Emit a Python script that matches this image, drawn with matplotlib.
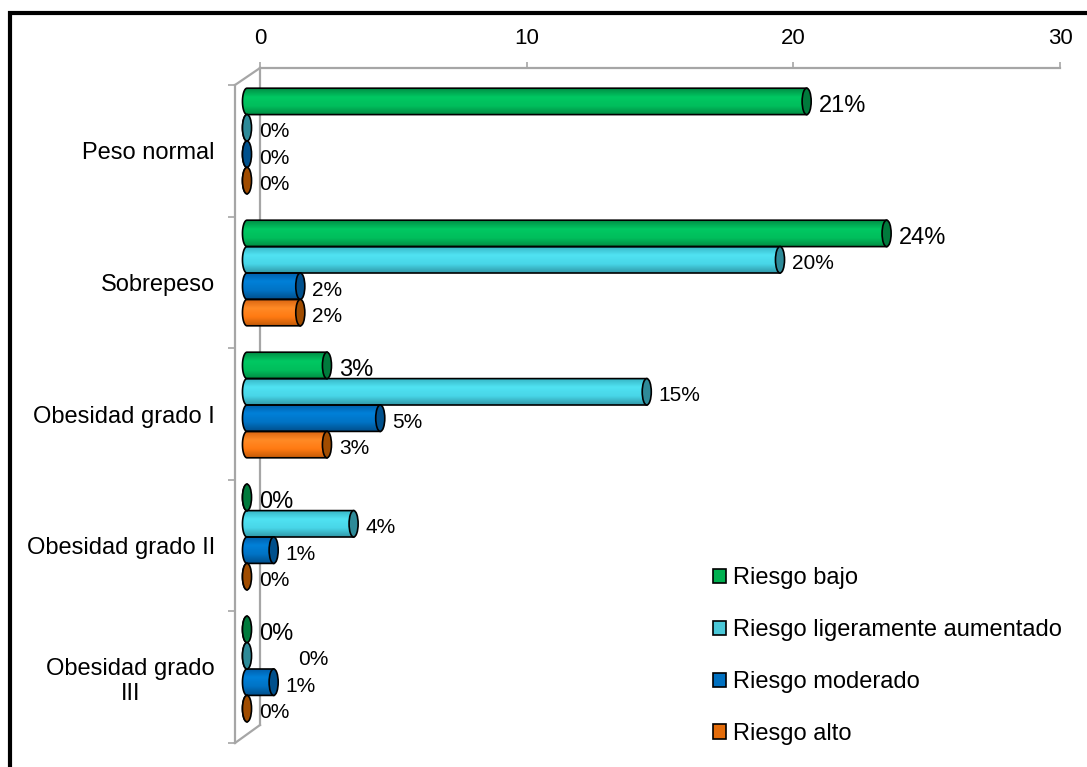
import numpy as np
import matplotlib
matplotlib.use("Agg")
import matplotlib.pyplot as plt
from matplotlib.colors import LinearSegmentedColormap
from matplotlib.patches import Ellipse, PathPatch, Patch, Rectangle
from matplotlib.path import Path
from matplotlib.lines import Line2D

plt.rcParams['font.family'] = ['Liberation Sans', 'DejaVu Sans']

# ── Datos (% de pacientes) ───────────────────────────────────
categorias = ["Peso normal", "Sobrepeso", "Obesidad grado I",
              "Obesidad grado II", "Obesidad grado\nIII"]
series = ["Riesgo bajo", "Riesgo ligeramente aumentado",
          "Riesgo moderado", "Riesgo alto"]
riesgo_bajo = [21, 24, 3, 0, 0]
riesgo_ligero = [0, 20, 15, 4, 0]
riesgo_moderado = [0, 2, 5, 1, 1]
riesgo_alto = [0, 2, 3, 0, 0]
ticks_x = [0, 10, 20, 30]

valores = [riesgo_bajo, riesgo_ligero, riesgo_moderado, riesgo_alto]

# ── Estilos: degradado del cilindro, tapa y leyenda ──────────
degradados = [
    ["#008E45", "#00C862", "#00BE5C", "#008A42"],
    ["#36B4C4", "#50E2F2", "#48D6E8", "#3098A8"],
    ["#005CA8", "#0080D8", "#0074C6", "#00508E"],
    ["#D86410", "#FF8A26", "#FF7A12", "#C25A08"],
]
tapas = ["#007A3C", "#2E8A98", "#00508C", "#A04C00"]
colores_leyenda = ["#00B050", "#4BC8D8", "#0070C0", "#E46C0A"]
tam_etiqueta = [17, 15, 15, 15]
desplaz_extra = {(4, 1): 28}   # etiqueta desplazada a la derecha

GRIS = "#A6A6A6"
W, H = 1087, 767
PX_UNIDAD = 26.65   # píxeles por unidad del eje x


def caja(x0, y0, x1, y1):
    """Rectángulo en píxeles (origen arriba-izquierda) -> fracción de figura."""
    return [x0 / W, 1 - y1 / H, (x1 - x0) / W, (y1 - y0) / H]


fig = plt.figure(figsize=(W / 100, H / 100), dpi=100)
fig.patch.set_facecolor("white")

# ── Pared del fondo: eje superior con la escala ──────────────
ax_fondo = fig.add_axes(caja(260, 68, 1060, 725))
ax_fondo.set_xlim(0, 30)
ax_fondo.set_ylim(0, 1)
ax_fondo.patch.set_visible(False)
for lado in ["right", "bottom"]:
    ax_fondo.spines[lado].set_visible(False)
for lado in ["top", "left"]:
    ax_fondo.spines[lado].set_color(GRIS)
    ax_fondo.spines[lado].set_linewidth(1.6)
ax_fondo.xaxis.tick_top()
ax_fondo.set_xticks(ticks_x)
ax_fondo.tick_params(axis="x", direction="out", length=4.5, width=1.2,
                     color=GRIS, labelsize=16, pad=9)
ax_fondo.set_yticks([])

# ── Pared frontal: categorías ────────────────────────────────
ax_frente = fig.add_axes(caja(235, 85, 1035, 743))
ax_frente.set_ylim(4.5, -0.5)
ax_frente.set_xlim(0, 1)
ax_frente.patch.set_visible(False)
for lado in ["right", "bottom", "top"]:
    ax_frente.spines[lado].set_visible(False)
ax_frente.spines["left"].set_color(GRIS)
ax_frente.spines["left"].set_linewidth(1.6)
ax_frente.set_xticks([])
ax_frente.set_yticks(range(len(categorias)))
ax_frente.set_yticklabels(categorias)
ax_frente.set_yticks(np.arange(-0.5, len(categorias)), minor=True)
ax_frente.tick_params(axis="y", which="major", length=0, labelsize=17, pad=14.5)
ax_frente.tick_params(axis="y", which="minor", length=5, width=1.2,
                      color=GRIS, direction="out")
for lbl in ax_frente.get_yticklabels():
    lbl.set_multialignment("center")

# diagonales que unen ambas paredes
f = ax_frente.get_position()
b = ax_fondo.get_position()
for yf, yb in [(f.y1, b.y1), (f.y0, b.y0)]:
    fig.add_artist(Line2D([f.x0, b.x0], [yf, yb], color=GRIS, lw=1.6,
                          transform=fig.transFigure))

# ── Barras cilíndricas ───────────────────────────────────────
# el eje empieza una unidad antes de 0 para que quepa la tapa izquierda
ax = fig.add_axes(caja(247 - PX_UNIDAD, 75, 247 + 30 * PX_UNIDAD, 735))
ax.set_xlim(-1, 30)
ax.set_ylim(4.5, -0.5)
ax.axis("off")

alto = 0.2
a = 0.17          # semieje horizontal de la tapa
b_ = alto / 2     # semieje vertical
theta = np.linspace(np.pi / 2, 3 * np.pi / 2, 40)

for j, serie in enumerate(valores):
    cmap = LinearSegmentedColormap.from_list(f"c{j}", degradados[j])
    grad = np.linspace(0, 1, 64).reshape(-1, 1)
    for i, v in enumerate(serie):
        yc = i - 0.3 + alto * j
        # contorno del cuerpo: rectángulo + media elipse izquierda
        arco = np.column_stack([a * np.cos(theta), yc - b_ * np.sin(theta)])
        verts = np.vstack([[[v, yc - b_], [0, yc - b_]], arco,
                           [[0, yc + b_], [v, yc + b_], [v, yc - b_]]])
        cuerpo = PathPatch(Path(verts, closed=True), facecolor="none",
                           edgecolor="black", lw=1.2, zorder=3)
        ax.add_patch(cuerpo)
        img = ax.imshow(grad, cmap=cmap, aspect="auto", origin="upper",
                        extent=(-a, v, yc + b_, yc - b_), zorder=2,
                        interpolation="bilinear")
        img.set_clip_path(cuerpo)
        ax.add_patch(Ellipse((v, yc), 2 * a, alto, facecolor=tapas[j],
                             edgecolor="black", lw=1.2, zorder=4))
        dx = 8.5 + desplaz_extra.get((i, j), 0)
        ax.annotate(f"{v}%", xy=(v, yc), xytext=(dx, -3),
                    textcoords="offset points", ha="left", va="center",
                    fontsize=tam_etiqueta[j], zorder=5)

ax.set_xlim(-1, 30)
ax.set_ylim(4.5, -0.5)

# ── Leyenda ──────────────────────────────────────────────────
handles = [Patch(facecolor=c, edgecolor="black", lw=1.2) for c in colores_leyenda]
fig.legend(handles, series, loc="upper left",
           bbox_to_anchor=(713 / W, 1 - 567 / H), bbox_transform=fig.transFigure,
           frameon=False, fontsize=17, handlelength=0.55, handleheight=0.55,
           handletextpad=0.3, labelspacing=1.27, borderpad=0, borderaxespad=0)

# marco exterior
fig.add_artist(Rectangle((9.5 / W, -0.1), 1.2, 1.1 - 12.5 / H, fill=False,
                         edgecolor="black", lw=3, transform=fig.transFigure))

fig.savefig("out.png", dpi=100, facecolor="white")
